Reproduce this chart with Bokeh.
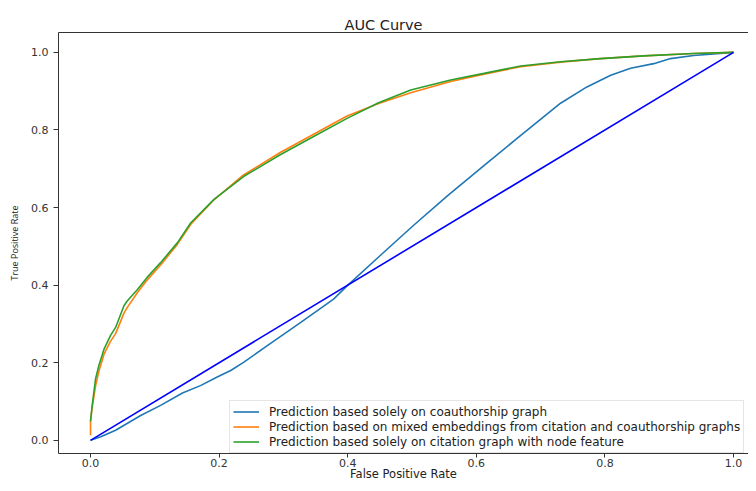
from bokeh.plotting import figure
from bokeh.models import Range1d, LinearAxis, FixedTicker, Legend, LegendItem
from bokeh.embed import file_html
from bokeh.resources import INLINE

# ---- data ----
tick_values = [0.0, 0.2, 0.4, 0.6, 0.8, 1.0]
tick_labels = ["0.0", "0.2", "0.4", "0.6", "0.8", "1.0"]

coauth_fpr = [0.0, 0.016, 0.039, 0.078, 0.109, 0.143, 0.171, 0.197, 0.218, 0.238, 0.275,
              0.327, 0.378, 0.399, 0.451, 0.503, 0.555, 0.617, 0.661, 0.731, 0.772, 0.809,
              0.840, 0.876, 0.902, 0.938, 1.0]
coauth_tpr = [0.0, 0.009, 0.026, 0.064, 0.090, 0.122, 0.141, 0.163, 0.180, 0.201, 0.244,
              0.304, 0.364, 0.398, 0.477, 0.555, 0.630, 0.715, 0.775, 0.869, 0.911, 0.941,
              0.959, 0.971, 0.984, 0.992, 1.0]

mixed_fpr = [0.0, 0.0, 0.0026, 0.0078, 0.013, 0.021, 0.031, 0.039, 0.052, 0.057, 0.073,
             0.088, 0.109, 0.135, 0.156, 0.192, 0.238, 0.295, 0.347, 0.399, 0.448, 0.498,
             0.560, 0.612, 0.669, 0.731, 0.793, 0.860, 0.938, 1.0]
mixed_tpr = [0.013, 0.05, 0.085, 0.140, 0.178, 0.222, 0.255, 0.275, 0.328, 0.342, 0.381,
             0.413, 0.452, 0.505, 0.557, 0.620, 0.684, 0.742, 0.789, 0.836, 0.868, 0.896,
             0.925, 0.944, 0.963, 0.975, 0.984, 0.991, 0.997, 1.0]

citation_fpr = [0.0, 0.0026, 0.0078, 0.013, 0.021, 0.031, 0.039, 0.052, 0.057, 0.073,
                0.088, 0.109, 0.135, 0.156, 0.192, 0.238, 0.295, 0.347, 0.399, 0.448, 0.498,
                0.560, 0.612, 0.669, 0.731, 0.793, 0.860, 0.938, 1.0]
citation_tpr = [0.049, 0.090, 0.158, 0.193, 0.235, 0.270, 0.291, 0.347, 0.359, 0.389,
                0.420, 0.458, 0.509, 0.561, 0.621, 0.680, 0.736, 0.783, 0.830, 0.870, 0.903,
                0.929, 0.946, 0.965, 0.976, 0.984, 0.991, 0.997, 1.0]

diag_x = [0.0, 1.0]
diag_y = [0.0, 1.0]

series_labels = [
    "Prediction based solely on coauthorship graph",
    "Prediction based on mixed embeddings from citation and coauthorship graphs",
    "Prediction based solely on citation graph with node feature",
]

FONT = "DejaVu Sans"
DARK = "#333333"

p = figure(width=748, height=483, output_backend="svg", toolbar_location=None,
           x_range=Range1d(-0.0498, 1.0233), y_range=Range1d(-0.034, 1.0513),
           title="AUC Curve", x_axis_label="False Positive Rate",
           y_axis_label="True Positive Rate",
           min_border_left=58, min_border_right=0, min_border_top=32, min_border_bottom=0)

p.outline_line_color = None
p.grid.visible = False
p.background_fill_color = "white"
p.border_fill_color = "white"

p.title.align = "left"
p.title.offset = 286
p.title.text_font = FONT
p.title.text_font_size = "14.5px"
p.title.text_font_style = "normal"
p.title.text_color = "#222222"
p.title.standoff = 0

for ax in (p.xaxis[0], p.yaxis[0]):
    ax.ticker = FixedTicker(ticks=tick_values)
    ax.major_label_overrides = {v: s for v, s in zip(tick_values, tick_labels)}
    ax.major_label_text_font = FONT
    ax.major_label_text_font_size = "11px"
    ax.major_label_text_color = DARK
    ax.axis_line_color = DARK
    ax.major_tick_line_color = DARK
    ax.major_tick_in = 0
    ax.minor_tick_line_color = None
    ax.axis_label_text_font_style = "normal"
    ax.axis_label_text_color = "#222222"

p.xaxis[0].major_tick_out = 4
p.xaxis[0].major_label_standoff = 1
p.xaxis[0].axis_label_standoff = -3
p.xaxis[0].axis_label_text_font = FONT
p.xaxis[0].axis_label_text_font_size = "11.5px"

p.yaxis[0].major_tick_out = 5
p.yaxis[0].major_label_standoff = 5
p.yaxis[0].axis_label_standoff = 7
p.yaxis[0].axis_label_text_font = "Open Sans"
p.yaxis[0].axis_label_text_font_size = "9px"

top_axis = LinearAxis(ticker=FixedTicker(ticks=[]), major_label_text_font_size="0px",
                      major_label_standoff=0, axis_label_standoff=0,
                      major_tick_out=0, major_tick_in=0, minor_tick_out=0, minor_tick_in=0,
                      axis_line_color=DARK)
p.add_layout(top_axis, "above")

r1 = p.line(coauth_fpr, coauth_tpr, line_color="#1f77b4", line_width=1.6)
r2 = p.line(mixed_fpr, mixed_tpr, line_color="#ff7f0e", line_width=1.6)
r3 = p.line(citation_fpr, citation_tpr, line_color="#2ca02c", line_width=1.6)
p.line(diag_x, diag_y, line_color="#0000ff", line_width=1.6)

legend = Legend(items=[LegendItem(label=series_labels[0], renderers=[r1]),
                       LegendItem(label=series_labels[1], renderers=[r2]),
                       LegendItem(label=series_labels[2], renderers=[r3])],
                location=(171, 0))
legend.label_text_font = FONT
legend.label_text_font_size = "12px"
legend.label_text_color = "#222222"
legend.glyph_width = 26
legend.glyph_height = 15
legend.label_height = 15
legend.label_standoff = 10
legend.padding = 3
legend.spacing = 0
legend.margin = 0
legend.border_line_color = "#cccccc"
legend.border_line_width = 1
legend.background_fill_alpha = 0.8
p.add_layout(legend)

open("out.html", "w").write(file_html(p, INLINE))
